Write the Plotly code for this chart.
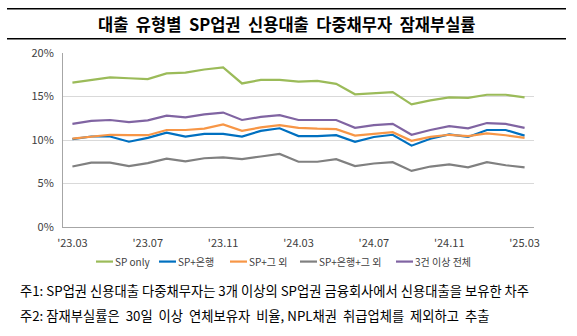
import plotly.graph_objects as go

months = ["'23.03", "'23.04", "'23.05", "'23.06", "'23.07", "'23.08", "'23.09", "'23.10",
          "'23.11", "'23.12", "'24.01", "'24.02", "'24.03", "'24.04", "'24.05", "'24.06",
          "'24.07", "'24.08", "'24.09", "'24.10", "'24.11", "'24.12", "'25.01", "'25.02", "'25.03"]
tick_labels = ["'23.03", "'23.07", "'23.11", "'24.03", "'24.07", "'24.11", "'25.03"]

sp_only = [16.6, 16.9, 17.2, 17.1, 17.0, 17.65, 17.75, 18.1, 18.35, 16.5, 16.9, 16.9, 16.7,
           16.8, 16.45, 15.25, 15.4, 15.5, 14.1, 14.55, 14.9, 14.85, 15.2, 15.2, 14.9]
sp_bank = [10.1, 10.4, 10.4, 9.8, 10.25, 10.85, 10.4, 10.7, 10.7, 10.4, 11.05, 11.35, 10.45,
           10.45, 10.55, 9.8, 10.35, 10.6, 9.35, 10.15, 10.65, 10.35, 11.15, 11.15, 10.5]
sp_other = [10.15, 10.4, 10.6, 10.55, 10.55, 11.15, 11.15, 11.3, 11.8, 11.05, 11.45, 11.7, 11.4,
            11.3, 11.25, 10.5, 10.7, 10.9, 9.9, 10.35, 10.6, 10.45, 10.75, 10.55, 10.25]
sp_bank_other = [6.95, 7.4, 7.4, 7.0, 7.35, 7.85, 7.55, 7.9, 8.0, 7.8, 8.1, 8.4, 7.5,
                 7.5, 7.8, 7.0, 7.3, 7.45, 6.45, 6.95, 7.2, 6.85, 7.45, 7.1, 6.85]
all3 = [11.85, 12.2, 12.3, 12.05, 12.25, 12.8, 12.6, 12.95, 13.15, 12.3, 12.65, 12.85, 12.3,
        12.3, 12.3, 11.4, 11.7, 11.85, 10.6, 11.15, 11.6, 11.35, 11.95, 11.85, 11.4]

series_names = ["SP only", "SP+은행", "SP+그 외", "SP+은행+그 외", "3건 이상 전체"]
series_values = [sp_only, sp_bank, sp_other, sp_bank_other, all3]
series_colors = ["#9BBB59", "#0070C0", "#F79646", "#808080", "#8064A2"]

FONT = "Noto Sans CJK KR"
PL, PR, PT, PB = 63, 534, 52.7, 227.3  # plot area in pixels


def px_x(x):
    return (x - PL) / (PR - PL)


def px_y(y):
    return (PB - y) / (PB - PT)


fig = go.Figure()
for name, vals, color in zip(series_names, series_values, series_colors):
    fig.add_trace(go.Scatter(x=months, y=vals, name=name, mode="lines",
                             line=dict(color=color, width=2.2), showlegend=False))

fig.update_layout(
    width=577, height=336,
    margin=dict(l=PL, r=577 - PR, t=PT, b=336 - PB),
    paper_bgcolor="white", plot_bgcolor="white",
    font=dict(family=FONT, size=11, color="#404040"),
    xaxis=dict(type="category", tickmode="array", tickvals=tick_labels, ticktext=tick_labels,
               showgrid=False, showline=True, linecolor="#A6A6A6", linewidth=1,
               ticks="outside", ticklen=6, tickcolor="rgba(0,0,0,0)",
               tickfont=dict(size=11, color="#404040"), range=[-0.5, 24.5]),
    yaxis=dict(range=[0, 20], dtick=5, ticksuffix="%", showgrid=True, gridcolor="#D9D9D9",
               gridwidth=1, showline=True, linecolor="#A6A6A6", linewidth=1, zeroline=False,
               ticks="outside", ticklen=6, tickcolor="rgba(0,0,0,0)",
               tickfont=dict(size=11, color="#404040")),
)

# manual legend
legend_line_x = [96, 159, 230, 300, 396]
legend_y = 262
for lx, name, color in zip(legend_line_x, series_names, series_colors):
    fig.add_shape(type="line", xref="paper", yref="paper", x0=px_x(lx), x1=px_x(lx + 17),
                  y0=px_y(legend_y), y1=px_y(legend_y), line=dict(color=color, width=2.2))
    fig.add_annotation(xref="paper", yref="paper", x=px_x(lx + 17), y=px_y(legend_y),
                       xanchor="left", yanchor="middle", text=name, showarrow=False,
                       font=dict(family=FONT, size=10, color="#404040"))

# title lines
for yy in (8.3, 38.3):
    fig.add_shape(type="line", xref="paper", yref="paper", x0=px_x(7), x1=px_x(566),
                  y0=px_y(yy), y1=px_y(yy), line=dict(color="black", width=1.5))
fig.add_annotation(xref="paper", yref="paper", x=px_x(286.5), y=px_y(23.3), xanchor="center",
                   yanchor="middle",
                   text="<b>대출  유형별  SP업권  신용대출  다중채무자  잠재부실률</b>", showarrow=False,
                   font=dict(family=FONT, size=16.5, color="black"))
fig.add_annotation(xref="paper", yref="paper", x=px_x(18), y=px_y(291), xanchor="left",
                   yanchor="middle",
                   text="주1: SP업권 신용대출 다중채무자는 3개 이상의 SP업권 금융회사에서 신용대출을 보유한 차주",
                   showarrow=False, font=dict(family=FONT, size=13.3, color="black"))
fig.add_annotation(xref="paper", yref="paper", x=px_x(18), y=px_y(316), xanchor="left",
                   yanchor="middle",
                   text="주2: 잠재부실률은\u00a0 30일\u00a0 이상\u00a0 연체보유자\u00a0 비율, NPL채권\u00a0 취급업체를\u00a0 제외하고\u00a0 추출",
                   showarrow=False, font=dict(family=FONT, size=13.3, color="black"))

fig.write_html("out.html")
